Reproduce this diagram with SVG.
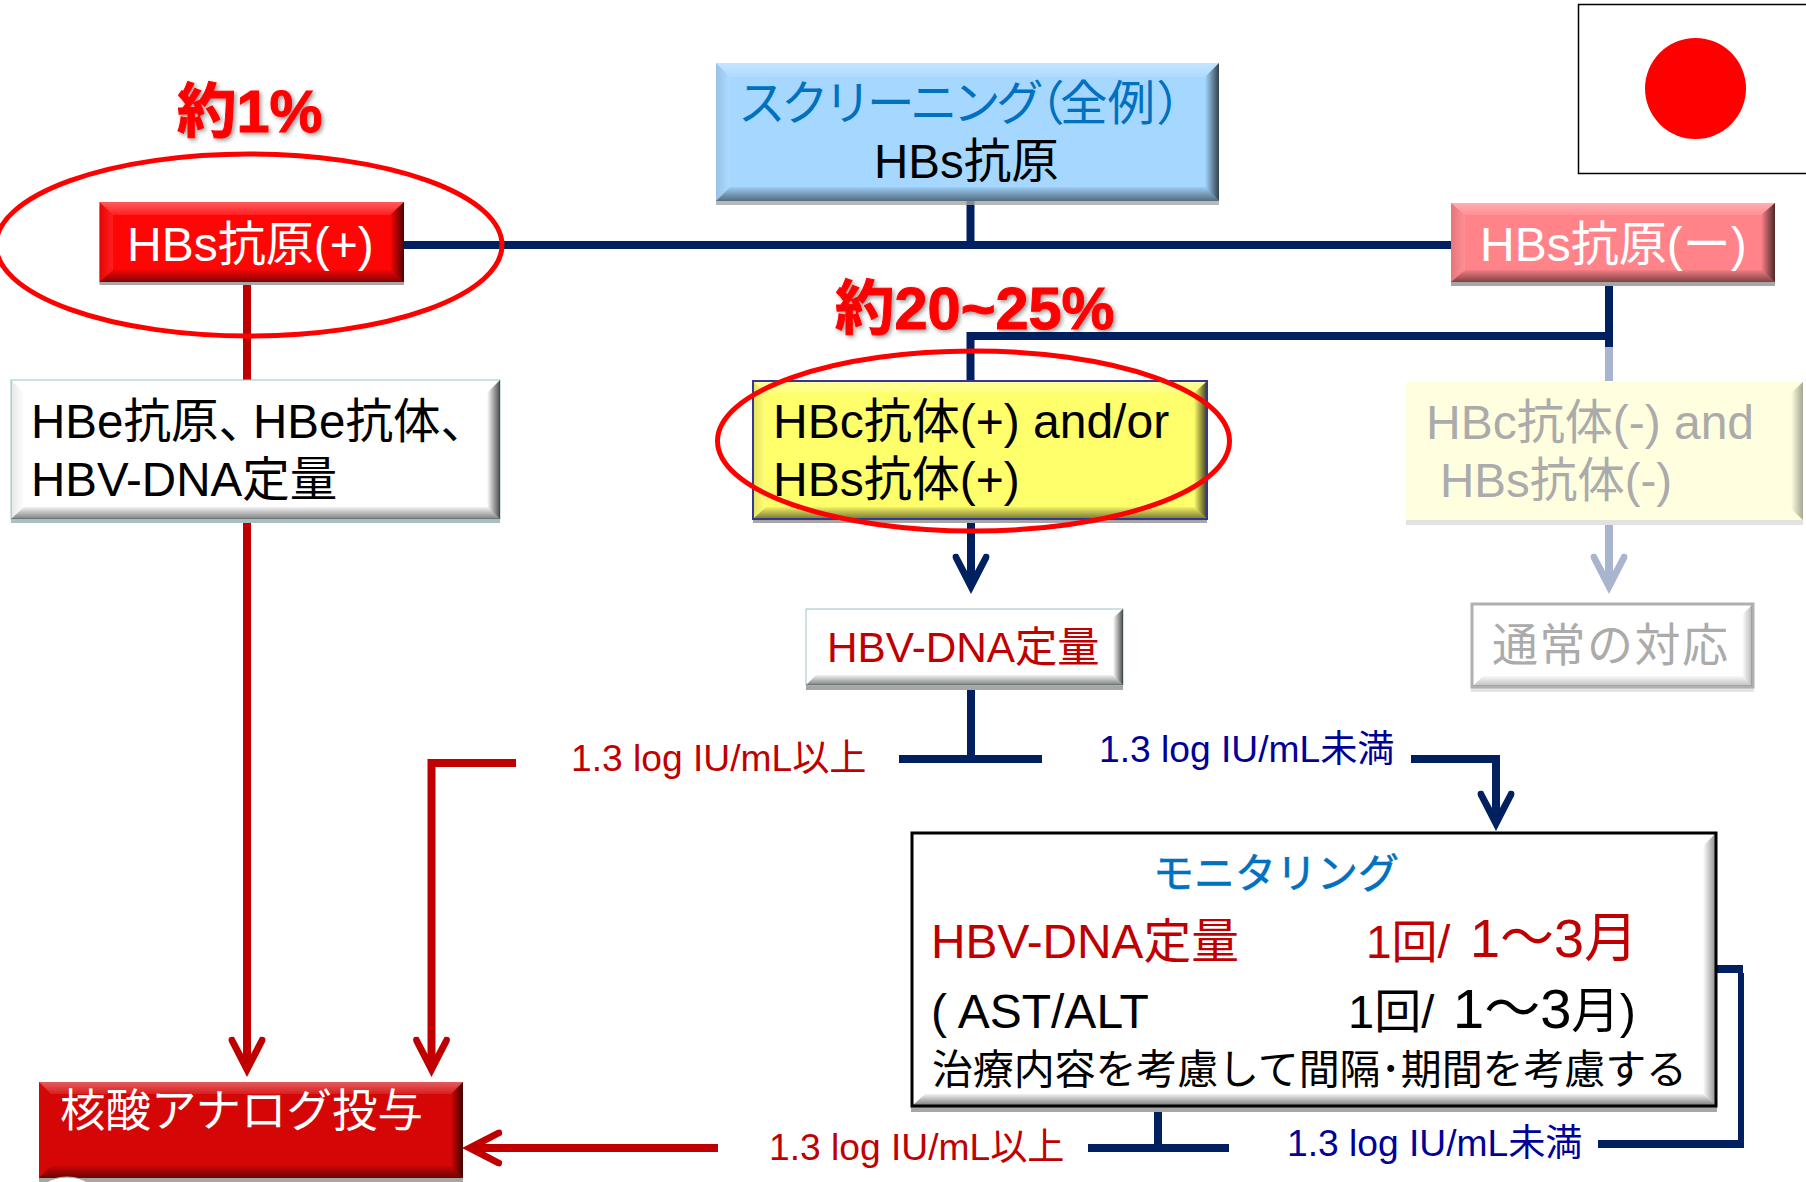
<svg xmlns="http://www.w3.org/2000/svg" width="1806" height="1182" viewBox="0 0 1806 1182">
<style>
text{font-family:"Liberation Sans","Noto Sans CJK JP",sans-serif;font-size:47.500px;fill:#000}
.w{fill:#fff}.r{fill:#C00000}.g{fill:#ABABAB}.b{fill:#0070C0}
.n{fill:#000099}
.lbl{font-size:37.200px}
.pct{font-size:59.500px;font-weight:bold;fill:#FF0000;stroke:#FF0000;stroke-width:1;filter:url(#ds)}
.navy{stroke:#002060;stroke-width:8;fill:none}
.thin{stroke:#002060;stroke-width:6;fill:none}
.red{stroke:#C00000;stroke-width:8;fill:none}
.pale{stroke:#A9B5CF;stroke-width:8;fill:none}
.ell{fill:none;stroke:#FF0000;stroke-width:5}
.t{fill:url(#gT)}.l{fill:url(#gL)}.rr{fill:url(#gR)}.bt{fill:url(#gB)}
.sh{fill:#A6A6A6}
.pw{font-feature-settings:"palt"}
</style>
<defs>
<filter id="ds" x="-10%" y="-10%" width="125%" height="125%"><feDropShadow dx="2" dy="2" stdDeviation="2" flood-color="#000" flood-opacity="0.4"/></filter>
<linearGradient id="gT" x1="0" y1="0" x2="0" y2="1"><stop offset="0" stop-color="#fff" stop-opacity=".35"/><stop offset="1" stop-color="#fff" stop-opacity=".1"/></linearGradient>
<linearGradient id="gL" x1="0" y1="0" x2="1" y2="0"><stop offset="0" stop-color="#000" stop-opacity=".1"/><stop offset="1" stop-color="#fff" stop-opacity=".1"/></linearGradient>
<linearGradient id="gR" x1="0" y1="0" x2="1" y2="0"><stop offset="0" stop-color="#000" stop-opacity="0"/><stop offset="1" stop-color="#000" stop-opacity=".7"/></linearGradient>
<linearGradient id="gB" x1="0" y1="0" x2="0" y2="1"><stop offset="0" stop-color="#000" stop-opacity=".05"/><stop offset="1" stop-color="#000" stop-opacity=".5"/></linearGradient>
<marker id="aN" viewBox="-30 -24 44 48" refX="0" refY="0" markerWidth="44" markerHeight="48" markerUnits="userSpaceOnUse" orient="auto"><path fill="#002060" d="M13,0 L-22,-18 Q-28,-20 -27,-13 L-10,-4 L-10,4 L-27,13 Q-28,20 -22,18 Z"/></marker>
<marker id="aR" viewBox="-30 -24 44 48" refX="0" refY="0" markerWidth="44" markerHeight="48" markerUnits="userSpaceOnUse" orient="auto"><path fill="#C00000" d="M13,0 L-22,-18 Q-28,-20 -27,-13 L-10,-4 L-10,4 L-27,13 Q-28,20 -22,18 Z"/></marker>
<marker id="aP" viewBox="-30 -24 44 48" refX="0" refY="0" markerWidth="44" markerHeight="48" markerUnits="userSpaceOnUse" orient="auto"><path fill="#A9B5CF" d="M13,0 L-22,-18 Q-28,-20 -27,-13 L-10,-4 L-10,4 L-27,13 Q-28,20 -22,18 Z"/></marker>
</defs>
<rect width="1806" height="1182" fill="#fff"/>

<g id="connectors">
<path class="navy" d="M404,245H1451"/>
<path class="navy" d="M970.500,201V245"/>
<path class="navy" d="M970.500,381V336H1609"/>
<path class="navy" d="M1609,282V347"/>
<path class="pale" d="M1609,347V381"/>
<path class="pale" marker-end="url(#aP)" d="M1609,523V581"/>
<path class="navy" marker-end="url(#aN)" d="M971,519V581"/>
<path class="navy" d="M971,685V759"/>
<path class="navy" d="M899,759H1042"/>
<path class="navy" marker-end="url(#aN)" d="M1411,759H1496V818"/>
<path class="navy" d="M1158,1106V1148"/>
<path class="navy" d="M1088,1148H1229"/>
<path class="navy" d="M1717,969H1743"/>
<path class="thin" d="M1741,973V1146"/>
<path class="navy" d="M1598,1144H1744"/>
<path class="red" d="M247,282V380"/>
<path class="red" marker-end="url(#aR)" d="M247,523V1064"/>
<path class="red" marker-end="url(#aR)" d="M516,763H431.500V1064"/>
<path class="red" marker-end="url(#aR)" d="M718,1148H475"/>
</g>

<g id="flag"><rect x="1578.500" y="4.500" width="240" height="169" fill="#fff" stroke="#000" stroke-width="1.500"/><circle cx="1695.500" cy="88.500" r="50.500" fill="#FF0000"/></g>

<g id="screening">
<rect class="sh" x="716" y="67" width="503" height="138" fill-opacity=".8"/>
<rect x="716" y="63" width="503" height="138" fill="#A5D7FF"/>
<polygon class="t" points="716,63 1219,63 1205,77 730,77"/><polygon class="l" points="716,63 730,77 730,187 716,201"/><polygon class="rr" points="1219,63 1205,77 1205,187 1219,201"/><polygon class="bt" points="716,201 730,187 1205,187 1219,201"/>
<text class="b" y="120"><tspan x="738" style="letter-spacing:-4.500px">スクリーニング</tspan><tspan class="pw" x="1039">（</tspan><tspan x="1060">全例</tspan><tspan class="pw" x="1158">）</tspan></text>
<text x="874" y="178">HBs抗原</text>
</g>

<g id="hbs-pos">
<rect class="sh" x="99.500" y="206" width="304.500" height="79"/>
<rect x="99.500" y="202" width="304.500" height="80" fill="#FF0606"/>
<polygon class="t" points="99.500,202 404,202 390,215 113,215"/><polygon class="l" points="99.500,202 113,215 113,270 99.500,282"/><polygon class="rr" points="404,202 390,215 390,270 404,282"/><polygon class="bt" points="99.500,282 113,270 390,270 404,282"/>
<text class="w" x="127" y="261" style="font-size:48px">HBs抗原(+)</text>
</g>

<g id="hbs-neg">
<rect class="sh" x="1451" y="207" width="324" height="79"/>
<rect x="1451" y="203" width="324" height="79" fill="#FF8389"/>
<polygon class="t" points="1451,203 1775,203 1761,215 1465,215"/><polygon class="l" points="1451,203 1465,215 1465,270 1451,282"/><polygon class="rr" points="1775,203 1761,215 1761,270 1775,282"/><polygon class="bt" points="1451,282 1465,270 1761,270 1775,282"/>
<text class="w" x="1480" y="261" style="font-size:48px">HBs抗原(ー)</text>
</g>

<g id="hbe">
<rect x="11" y="384" width="489" height="139" fill="#A9BFC2"/>
<rect x="11" y="380" width="489" height="139" fill="#fff" stroke="#9CC4C8" stroke-width="1"/>
<polygon class="l" points="11,380 24,393 24,507 11,519"/><polygon class="rr" points="500,380 487,393 487,507 500,519"/><polygon class="bt" points="11,519 24,507 487,507 500,519"/>
<text x="31" y="438">HBe抗原、<tspan x="253">HBe抗体、</tspan></text>
<text x="31" y="496" style="font-size:47.500px">HBV-DNA定量</text>
</g>

<g id="hbc-pos">
<rect class="sh" x="753" y="385" width="454" height="138"/>
<rect x="753" y="381" width="454" height="138" fill="#FFFF6B" stroke="#333A8C" stroke-width="2"/>
<polygon class="t" points="754,382 1206,382 1194,393 766,393"/><polygon class="rr" points="1206,382 1194,393 1194,507 1206,518"/><polygon class="l" points="754,382 766,393 766,507 754,518"/><polygon class="bt" points="754,518 766,507 1194,507 1206,518"/>
<text x="773" y="438" style="font-size:48px">HBc抗体(+) and/or</text>
<text x="773" y="496" style="font-size:48px">HBs抗体(+)</text>
</g>

<g id="hbc-neg">
<rect x="1406" y="386" width="397" height="139" fill="#E2E2E2"/>
<rect x="1406" y="382" width="397" height="138" fill="#FFFFE0"/>
<polygon class="rr" points="1803,382 1791,393 1791,509 1803,520" opacity=".5"/>
<text class="g" x="1426" y="439" style="font-size:48px">HBc抗体(-) and</text>
<text class="g" x="1440" y="497" style="font-size:47.500px">HBs抗体(-)</text>
</g>

<g id="hbv-dna">
<rect class="sh" x="806" y="613" width="317" height="77"/>
<rect x="806" y="609" width="317" height="76" fill="#fff" stroke="#9CC4C8" stroke-width="1"/>
<polygon class="rr" points="1123,609 1113,618 1113,675 1123,685"/><polygon class="bt" points="806,685 816,675 1113,675 1123,685"/>
<text class="r" x="827" y="662" style="font-size:42.300px">HBV-DNA定量</text>
</g>

<g id="usual">
<rect x="1471" y="608" width="283" height="84" fill="#E4E4E4"/>
<rect x="1472" y="604" width="281" height="83" fill="#fff" stroke="#B0B0B0" stroke-width="3"/>
<polygon class="bt" points="1473,686 1483,676 1742,676 1752,686" opacity=".5"/><polygon class="rr" points="1752,605 1742,615 1742,676 1752,686" opacity=".4"/>
<text class="g" x="1492" y="661" style="font-size:46px;letter-spacing:1.500px">通常の対応</text>
</g>

<g id="monitoring">
<rect class="sh" x="911" y="836" width="806" height="276"/>
<rect x="912" y="833" width="804" height="273" fill="#fff" stroke="#000" stroke-width="3"/>
<polygon class="rr" points="1715,834 1703,846 1703,1094 1715,1105" opacity=".6"/><polygon class="bt" points="913,1105 925,1094 1703,1094 1715,1105"/>
<text class="b" x="1153" y="888" style="font-size:41px;stroke:#0070C0;stroke-width:.6px">モニタリング</text>
<text class="r" x="931" y="958" style="font-size:47.800px">HBV-DNA定量</text>
<text class="r" x="1366" y="958" style="font-size:46px">1回/</text>
<text class="r" x="1470" y="957" style="font-size:54px">1～3月</text>
<text x="931" y="1028" style="font-size:48px">( AST/ALT</text>
<text x="1348" y="1028" style="font-size:47px">1回/</text>
<text x="1453" y="1028" style="font-size:48.500px"><tspan style="font-size:56px">1～3</tspan>月)</text>
<text x="932" y="1084" style="font-size:41px" textLength="755" lengthAdjust="spacing">治療内容を考慮して間隔･期間を考慮する</text>
</g>

<g id="nucleic">
<rect class="sh" x="39" y="1086" width="424" height="96"/>
<rect x="39" y="1082" width="424" height="96" fill="#D40606"/>
<polygon class="t" points="39,1082 463,1082 451,1094 51,1094"/><polygon class="rr" points="463,1082 451,1094 451,1166 463,1178"/><polygon class="bt" points="39,1178 51,1166 451,1166 463,1178"/>
<ellipse cx="67" cy="1196" rx="30" ry="19" fill="#fff" stroke="#A6A6A6" stroke-width="1"/>
<text class="w" x="60" y="1127" style="font-size:45.500px">核酸アナログ投与</text>
</g>

<g id="labels">
<text class="r lbl" x="571" y="771">1.3 log IU/mL以上</text>
<text class="n lbl" x="1099" y="762">1.3 log IU/mL未満</text>
<text class="r lbl" x="769" y="1160">1.3 log IU/mL以上</text>
<text class="n lbl" x="1287" y="1156">1.3 log IU/mL未満</text>
<text class="pct" x="177" y="132">約1%</text>
<text class="pct" x="835" y="329">約20~25%</text>
</g>

<g id="highlights">
<ellipse class="ell" cx="249" cy="245" rx="253" ry="91"/>
<ellipse class="ell" cx="973.500" cy="441" rx="256" ry="90"/>
</g>
</svg>
